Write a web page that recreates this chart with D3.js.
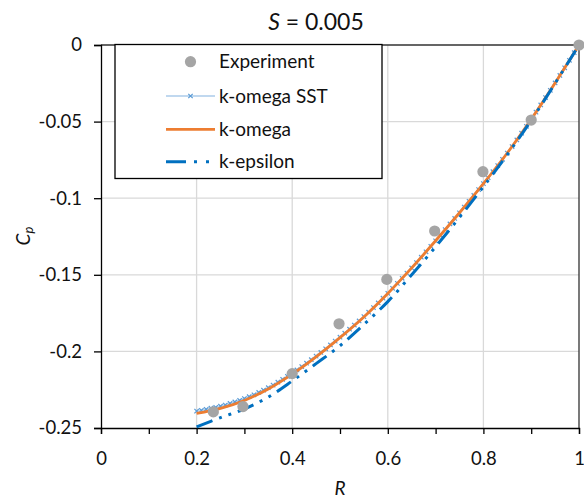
<!DOCTYPE html>
<html>
<head>
<meta charset="utf-8">
<script src="https://cdn.jsdelivr.net/npm/d3@7"></script>
<style>
  html, body { margin: 0; padding: 0; background: #fff; }
  svg { display: block; font-family: Lato, "Open Sans", sans-serif; }
</style>
</head>
<body>
<svg id="chart" width="584" height="501"></svg>
<script>
// ---------- data ----------
const expR  = [0.235, 0.297, 0.40, 0.498, 0.598, 0.698, 0.799, 0.90, 1.00];
const expCp = [-0.2395, -0.2360, -0.2145, -0.1820, -0.1530, -0.1214, -0.0827, -0.0490, 0.0000];

const sstR = [0.20,0.21,0.22,0.23,0.24,0.25,0.26,0.27,0.28,0.29,
              0.30,0.31,0.32,0.33,0.34,0.35,0.36,0.37,0.38,0.39,
              0.40,0.41,0.42,0.43,0.44,0.45,0.46,0.47,0.48,0.49,
              0.50,0.51,0.52,0.53,0.54,0.55,0.56,0.57,0.58,0.59,
              0.60,0.61,0.62,0.63,0.64,0.65,0.66,0.67,0.68,0.69,
              0.70,0.71,0.72,0.73,0.74,0.75,0.76,0.77,0.78,0.79,
              0.80,0.81,0.82,0.83,0.84,0.85,0.86,0.87,0.88,0.89,
              0.90,0.91,0.92,0.93,0.94,0.95,0.96,0.97,0.98,0.99,1.00];
const sstCp = [-0.2390,-0.2385,-0.2378,-0.2371,-0.2365,-0.2358,-0.2350,-0.2340,-0.2330,-0.2320,
               -0.2308,-0.2296,-0.2283,-0.2268,-0.2253,-0.2237,-0.2220,-0.2201,-0.2182,-0.2163,
               -0.2143,-0.2121,-0.2099,-0.2077,-0.2054,-0.2031,-0.2007,-0.1983,-0.1958,-0.1933,
               -0.1907,-0.1881,-0.1855,-0.1828,-0.1801,-0.1773,-0.1744,-0.1714,-0.1684,-0.1653,
               -0.1621,-0.1588,-0.1556,-0.1523,-0.1489,-0.1455,-0.1420,-0.1385,-0.1350,-0.1314,
               -0.1278,-0.1241,-0.1205,-0.1168,-0.1132,-0.1095,-0.1058,-0.1020,-0.0982,-0.0944,
               -0.0905,-0.0866,-0.0827,-0.0787,-0.0746,-0.0705,-0.0663,-0.0620,-0.0576,-0.0531,
               -0.0485,-0.0438,-0.0391,-0.0343,-0.0296,-0.0248,-0.0199,-0.0149,-0.0100,-0.0050,0.0000];

const modelR  = [0.20,0.25,0.30,0.35,0.40,0.45,0.50,0.55,0.60,0.65,0.70,0.75,0.80,0.85,0.90,0.95,1.00];
const komegaCp = [-0.2405,-0.2372,-0.2320,-0.2245,-0.2148,-0.2035,-0.1910,-0.1775,-0.1622,-0.1455,
                  -0.1278,-0.1095,-0.0905,-0.0705,-0.0485,-0.0248,0.0000];
const kepsCp   = [-0.2493,-0.2432,-0.2376,-0.2298,-0.2193,-0.2080,-0.1963,-0.1824,-0.1675,-0.1500,
                  -0.1317,-0.1125,-0.0925,-0.0715,-0.0492,-0.0250,0.0000];

const xTicks = [0,0.1,0.2,0.3,0.4,0.5,0.6,0.7,0.8,0.9,1.0];
const xTickLabels = ["0","","0.2","","0.4","","0.6","","0.8","","1"];
const yTicks = [0,-0.05,-0.1,-0.15,-0.2,-0.25];
const yTickLabels = ["0","-0.05","-0.1","-0.15","-0.2","-0.25"];
const xGrid = [0.2,0.4,0.6,0.8];
const yGrid = [-0.05,-0.1,-0.15,-0.2];
const seriesNames = ["Experiment","k-omega SST","k-omega","k-epsilon"];

// ---------- layout ----------
const svg = d3.select("#chart");
const x = d3.scaleLinear().domain([0,1]).range([101,579]);
const y = d3.scaleLinear().domain([-0.25,0]).range([428,45]);

const cGrey = "#a5a5a5", cSSTline = "#c0d8ef", cSSTmark = "#5b9bd5",
      cOrange = "#ed7d31", cBlue = "#0070c0";
const dashKE = "17,7,3,7,3,7";

// gridlines
svg.append("g").selectAll("line").data(xGrid).join("line")
  .attr("x1", d => x(d)).attr("x2", d => x(d))
  .attr("y1", y(0)).attr("y2", y(-0.25))
  .attr("stroke", "#d9d9d9").attr("stroke-width", 1.3);
svg.append("g").selectAll("line").data(yGrid).join("line")
  .attr("x1", x(0)).attr("x2", x(1))
  .attr("y1", d => y(d)).attr("y2", d => y(d))
  .attr("stroke", "#d9d9d9").attr("stroke-width", 1.3);

// plot border (top & right)
svg.append("path")
  .attr("d", `M${x(0)},${y(0)}H${x(1)}V${y(-0.25)}`)
  .attr("fill", "none").attr("stroke", "#333").attr("stroke-width", 1.3);

// axes
const xAxis = d3.axisBottom(x).tickValues(xTicks)
  .tickFormat((d,i) => xTickLabels[i]).tickSize(6).tickPadding(18);
const gx = svg.append("g").attr("transform", `translate(0,${y(-0.25)})`).call(xAxis);
const yAxis = d3.axisLeft(y).tickValues(yTicks)
  .tickFormat((d,i) => yTickLabels[i]).tickSize(7).tickPadding(12);
const gy = svg.append("g").attr("transform", `translate(${x(0)},0)`).call(yAxis);
[gx, gy].forEach(g => {
  g.select(".domain").attr("stroke", "#000").attr("stroke-width", 1.3);
  g.selectAll(".tick line").attr("stroke", "#000").attr("stroke-width", 1.3);
  g.selectAll(".tick text").attr("fill", "#111").style("font-size", "18.5px")
    .style("font-family", "Lato, sans-serif");
});

// series
const sstData = sstR.map((r,i) => [r, sstCp[i]]);
const kwData = modelR.map((r,i) => [r, komegaCp[i]]);
const keData = modelR.map((r,i) => [r, kepsCp[i]]);
const line = d3.line().x(d => x(d[0])).y(d => y(d[1])).curve(d3.curveCatmullRom);

svg.append("path").datum(sstData).attr("d", line)
  .attr("fill", "none").attr("stroke", cSSTline).attr("stroke-width", 2.2);
const xMark = (cx, cy, s) => `M${cx-s},${cy-s}L${cx+s},${cy+s}M${cx-s},${cy+s}L${cx+s},${cy-s}`;
svg.append("g").selectAll("path").data(sstData).join("path")
  .attr("d", d => xMark(x(d[0]), y(d[1]), 2.2))
  .attr("stroke", cSSTmark).attr("stroke-width", 1.2).attr("fill", "none");

svg.append("path").datum(kwData).attr("d", line)
  .attr("fill", "none").attr("stroke", cOrange).attr("stroke-width", 2.8);

svg.append("path").datum(keData).attr("d", line)
  .attr("fill", "none").attr("stroke", cBlue).attr("stroke-width", 3)
  .attr("stroke-dasharray", dashKE);

svg.append("g").selectAll("circle").data(expR).join("circle")
  .attr("cx", d => x(d)).attr("cy", (d,i) => y(expCp[i])).attr("r", 5.6)
  .attr("fill", cGrey);

// legend
const lg = svg.append("g");
lg.append("rect").attr("x", 115).attr("y", 44.5).attr("width", 267).attr("height", 134)
  .attr("fill", "#fff").attr("stroke", "#000").attr("stroke-width", 1.3);
const rowY = [61.7, 96, 129.3, 161.7];
lg.append("circle").attr("cx", 190.5).attr("cy", rowY[0]).attr("r", 5.6).attr("fill", cGrey);
lg.append("line").attr("x1", 166).attr("x2", 215).attr("y1", rowY[1]).attr("y2", rowY[1])
  .attr("stroke", cSSTline).attr("stroke-width", 2.2);
lg.append("path").attr("d", xMark(190.5, rowY[1], 2.2))
  .attr("stroke", cSSTmark).attr("stroke-width", 1.2).attr("fill", "none");
lg.append("line").attr("x1", 166).attr("x2", 215).attr("y1", rowY[2]).attr("y2", rowY[2])
  .attr("stroke", cOrange).attr("stroke-width", 2.8);
lg.append("line").attr("x1", 166).attr("x2", 215).attr("y1", rowY[3]).attr("y2", rowY[3])
  .attr("stroke", cBlue).attr("stroke-width", 3).attr("stroke-dasharray", "20,8,3,9,3,10");
lg.selectAll("text").data(seriesNames).join("text")
  .attr("x", 219).attr("y", (d,i) => rowY[i]).attr("dy", "0.35em")
  .attr("fill", "#111").style("font-size", "19px").text(d => d);

// title
const t = svg.append("text").attr("x", 316).attr("y", 30).attr("text-anchor", "middle")
  .attr("fill", "#111").style("font-size", "23px");
t.append("tspan").style("font-style", "italic").text("S");
t.append("tspan").text(" = 0.005");

// axis titles
svg.append("text").attr("x", x(0.5)).attr("y", 495).attr("text-anchor", "middle")
  .attr("fill", "#111").style("font-size", "19px").style("font-style", "italic").text("R");
const yl = svg.append("text").attr("transform", `translate(30,236) rotate(-90)`)
  .attr("text-anchor", "middle").attr("fill", "#111").style("font-size", "19px")
  .style("font-style", "italic");
yl.append("tspan").text("C");
yl.append("tspan").attr("dy", "0.25em").style("font-size", "13px").text("p");
</script>
</body>
</html>
